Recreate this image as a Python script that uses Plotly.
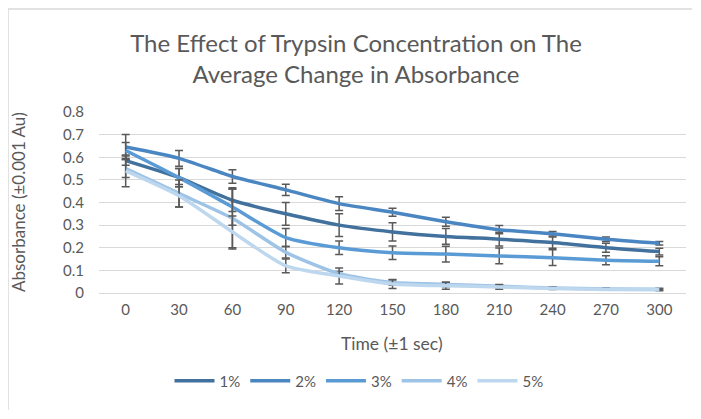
import plotly.graph_objects as go

times = ["0", "30", "60", "90", "120", "150", "180", "210", "240", "270", "300"]
series_names = ["1%", "2%", "3%", "4%", "5%"]

abs_1 = [0.585, 0.51, 0.41, 0.35, 0.30, 0.27, 0.25, 0.238, 0.223, 0.20, 0.183]
abs_2 = [0.645, 0.595, 0.515, 0.456, 0.395, 0.357, 0.315, 0.28, 0.262, 0.238, 0.22]
abs_3 = [0.63, 0.51, 0.38, 0.245, 0.20, 0.178, 0.172, 0.164, 0.156, 0.145, 0.14]
abs_4 = [0.55, 0.44, 0.33, 0.18, 0.085, 0.046, 0.038, 0.03, 0.022, 0.018, 0.017]
abs_5 = [0.54, 0.43, 0.27, 0.12, 0.075, 0.04, 0.032, 0.027, 0.02, 0.016, 0.014]

err_1 = [0.02, 0.04, 0.05, 0.05, 0.05, 0.04, 0.035, 0.03, 0.025, 0.02, 0.015]
err_2 = [0.055, 0.035, 0.03, 0.025, 0.03, 0.018, 0.02, 0.018, 0.01, 0.01, 0.008]
err_3 = [0.035, 0.04, 0.08, 0.04, 0.03, 0.03, 0.035, 0.035, 0.035, 0.02, 0.02]
err_4 = [0.04, 0.06, 0.135, 0.025, 0.01, 0.012, 0.01, 0.008, 0.005, 0.004, 0.004]
err_5 = [0.07, 0.05, 0.07, 0.03, 0.035, 0.02, 0.015, 0.01, 0.005, 0.004, 0.004]

values = [abs_1, abs_2, abs_3, abs_4, abs_5]
errors = [err_1, err_2, err_3, err_4, err_5]
colors = ["#41719C", "#4A86C2", "#5B9BD5", "#9DC3E6", "#BDD7EE"]

FONT = "Lato, 'Open Sans', sans-serif"
GREY = "#595959"

fig = go.Figure()
for name, y, e, c in zip(series_names, values, errors, colors):
    fig.add_trace(go.Scatter(
        x=times, y=y, name=name, mode="lines",
        line=dict(color=c, width=3.5, shape="spline", smoothing=0.6),
        error_y=dict(type="data", array=e, visible=True, color="#595959",
                     thickness=1.5, width=4),
    ))

# page offset of the figure inside the screenshot (body margin)
OFF = 7
W, H = 684, 402
l, t = 98 - OFF, 111 - OFF
pw, ph = 587, 181
r, b = W - l - pw, H - t - ph

def px_x(p):
    return (p - OFF - l) / pw

def px_y(p):
    return (H - b - (p - OFF)) / ph

# chart-area border (only top and left edges are visible in the reference)
border = dict(color="#D9D9D9", width=1.5)
fig.add_shape(type="line", xref="paper", yref="paper",
              x0=px_x(7), x1=px_x(760), y0=px_y(8), y1=px_y(8), line=border, layer="below")
fig.add_shape(type="line", xref="paper", yref="paper",
              x0=px_x(7), x1=px_x(7), y0=px_y(8), y1=px_y(480), line=border, layer="below")

fig.add_annotation(text="Absorbance (±0.001 Au)", xref="paper", yref="paper",
                   x=px_x(17), y=px_y(201), xanchor="center", yanchor="middle",
                   textangle=-90, showarrow=False, font=dict(size=17, color=GREY))
fig.add_annotation(text="Time (±1 sec)", xref="paper", yref="paper",
                   x=px_x(391), y=px_y(342), xanchor="center", yanchor="middle",
                   showarrow=False, font=dict(size=17.5, color=GREY))

fig.update_layout(
    width=W, height=H,
    margin=dict(l=l, r=r, t=t, b=b, autoexpand=False),
    paper_bgcolor="white", plot_bgcolor="white",
    font=dict(family=FONT, color=GREY, size=15),
    title=dict(text="The Effect of Trypsin Concentration on The<br>Average Change in Absorbance",
               x=(355 - OFF) / W, xref="container", xanchor="center",
               yref="container", y=1 - (50.5 - OFF) / H, yanchor="middle",
               font=dict(family=FONT, size=24, color=GREY)),
    showlegend=True,
    legend=dict(orientation="h", x=px_x(358), xanchor="center", y=px_y(380), yanchor="middle",
                font=dict(size=15, color=GREY), traceorder="normal",
                itemwidth=40, tracegroupgap=0),
    xaxis=dict(type="category", range=[-0.5, 10.5], showgrid=False, automargin=False,
               showline=True, linecolor="#D9D9D9", linewidth=1, ticks="",
               tickfont=dict(size=15, color=GREY), ticklabelstandoff=3,
               zeroline=False),
    yaxis=dict(range=[0, 0.8], dtick=0.1, showgrid=True, gridcolor="#D9D9D9", gridwidth=1,
               showline=False, zeroline=False, ticks="", automargin=False,
               tickfont=dict(size=15, color=GREY), ticklabelstandoff=14,
               tickformat=".1~f"),
)

fig.write_html("out.html")
